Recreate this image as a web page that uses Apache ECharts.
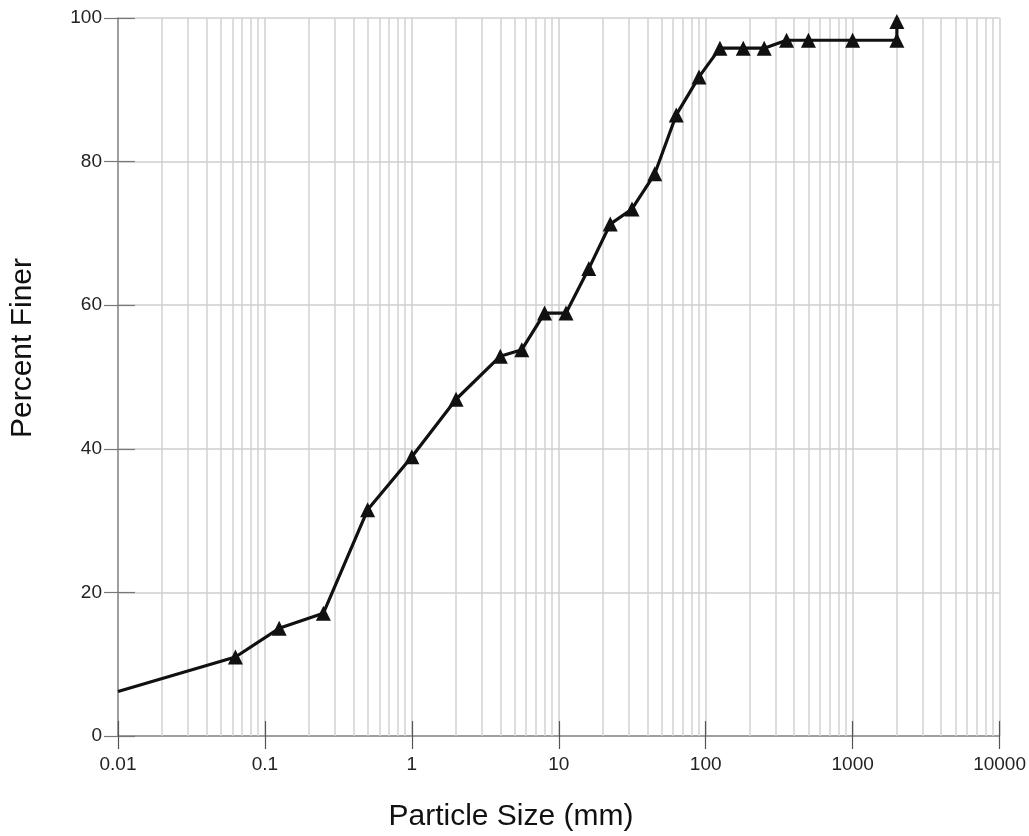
<!DOCTYPE html>
<html><head><meta charset="utf-8">
<script src="https://cdn.jsdelivr.net/npm/echarts@6/dist/echarts.min.js"></script>
<style>html,body{margin:0;padding:0;background:#fff}#c{width:1029px;height:836px}</style>
</head><body><div id="c"></div>
<script>
// Particle size (mm) and percent finer
const sizes = [0.01, 0.063, 0.125, 0.25, 0.5, 1, 2, 4, 5.6, 8, 11.2, 16, 22.4, 31.5, 45, 63, 90, 125, 180, 250, 355, 500, 1000, 2000, 2000];
const percents = [6.2, 11.0, 15.0, 17.1, 31.5, 38.9, 46.9, 52.9, 53.8, 58.9, 58.9, 65.1, 71.3, 73.4, 78.3, 86.5, 91.8, 95.8, 95.8, 95.8, 96.9, 96.9, 96.9, 96.9, 99.5];
const xTickLabels = ['0.01', '0.1', '1', '10', '100', '1000', '10000'];
const yTicks = [0, 20, 40, 60, 80, 100];
const xTitle = 'Particle Size (mm)';
const yTitle = 'Percent Finer';

// minor log grid positions (2..9 of each decade)
const minorX = [];
for (let d = -2; d <= 3; d++) for (let m = 2; m <= 9; m++) minorX.push(+(m * Math.pow(10, d)).toPrecision(3));

const seriesData = sizes.map((s, i) => i === 0 ? { value: [s, percents[i]], symbol: 'none' } : [s, percents[i]]);

const font = 'Liberation Sans, Arial, sans-serif';
const chart = echarts.init(document.getElementById('c'), null, { renderer: 'canvas' });
const baseX = { type: 'log', logBase: 10, min: 0.01, max: 10000, gridIndex: 0, position: 'bottom' };
chart.setOption({
  animation: false,
  grid: { left: 118, right: 29, top: 18, bottom: 100, containLabel: false },
  graphic: [
    { type: 'text', left: 0, top: 0, style: { text: '' } },
    { type: 'text', x: 511, y: 817, style: { text: xTitle, font: '30px ' + font, fill: '#111', align: 'center', verticalAlign: 'middle' } },
    { type: 'text', x: 23, y: 348, rotation: Math.PI / 2, style: { text: yTitle, font: '30px ' + font, fill: '#111', align: 'center', verticalAlign: 'middle' } }
  ],
  xAxis: [
    Object.assign({}, baseX, {
      axisLine: { show: true, lineStyle: { color: '#8a8a8a', width: 1.5 } },
      axisTick: { show: true, inside: false, length: 13, lineStyle: { color: '#555', width: 1.2 } },
      axisLabel: { show: true, margin: 19, fontFamily: font, fontSize: 19, color: '#222',
        formatter: v => { const i = Math.round(Math.log10(v)) + 2; return xTickLabels[i] !== undefined ? xTickLabels[i] : ''; } },
      splitLine: { show: true, lineStyle: { color: '#cfcfcf', width: 1.5 } }
    }),
    Object.assign({}, baseX, {
      axisLine: { show: false },
      axisTick: { show: true, inside: true, length: 15, lineStyle: { color: '#555', width: 1.2 } },
      axisLabel: { show: false },
      splitLine: { show: false }
    })
  ],
  yAxis: [
    {
      type: 'value', min: 0, max: 100, interval: 20, position: 'left',
      axisLine: { show: true, lineStyle: { color: '#8a8a8a', width: 1.5 } },
      axisTick: { show: true, inside: false, length: 14, lineStyle: { color: '#777', width: 1.2 } },
      axisLabel: { margin: 16, fontFamily: font, fontSize: 19, color: '#222',
        formatter: v => yTicks.indexOf(v) >= 0 ? String(v) : '' },
      splitLine: { show: true, lineStyle: { color: '#cfcfcf', width: 1.5 } }
    },
    {
      type: 'value', min: 0, max: 100, interval: 20, position: 'left', offset: 0,
      axisLine: { show: false },
      axisTick: { show: true, inside: true, length: 17, lineStyle: { color: '#777', width: 1.2 } },
      axisLabel: { show: false },
      splitLine: { show: false }
    }
  ],
  series: [
    {
      type: 'line', xAxisIndex: 0, yAxisIndex: 0, data: [], z: 1, silent: true,
      markLine: {
        silent: true, symbol: ['none', 'none'], label: { show: false },
        lineStyle: { color: '#d2d2d2', width: 1.5, type: 'solid' },
        data: minorX.map(v => ({ xAxis: v }))
      }
    },
    {
      type: 'line', xAxisIndex: 0, yAxisIndex: 0, z: 5,
      data: seriesData,
      symbol: 'triangle', symbolSize: 15,
      lineStyle: { color: '#111', width: 3.2 },
      itemStyle: { color: '#111' }
    }
  ]
});
</script></body></html>
